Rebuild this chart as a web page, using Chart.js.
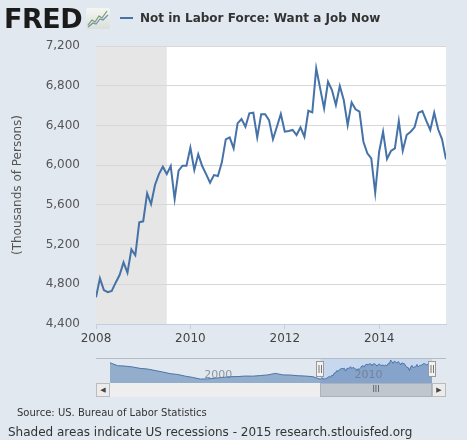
<!DOCTYPE html>
<html>
<head>
<meta charset="utf-8">
<script src="https://cdn.jsdelivr.net/npm/chart.js@4.4.1/dist/chart.umd.min.js"></script>
<style>
  html, body { margin: 0; padding: 0; }
  body { width: 467px; height: 440px; overflow: hidden; background: #e1e8f0; position: relative; font-family: "DejaVu Sans", Verdana, sans-serif; }
  .abs { position: absolute; }
  .top { z-index: 2; }
  #logo { left: 4px; top: 4px; font: bold 27px "DejaVu Sans", Verdana, sans-serif; color: #1b1b1b; line-height: 30px; letter-spacing: -0.5px; }
  #legend-line { left: 120px; top: 17px; width: 13px; height: 2px; background: #4572a7; }
  #legend-text { left: 140px; top: 10px; font: bold 12px "DejaVu Sans", Verdana, sans-serif; color: #333; white-space: nowrap; line-height: 16px; }
  #source { left: 17px; top: 406px; font-size: 10px; color: #333; white-space: nowrap; line-height: 14px; }
  #note { left: 8px; top: 424px; font-size: 12px; color: #333; white-space: nowrap; line-height: 16px; }
  .sb { position: absolute; top: 383px; height: 14px; box-sizing: border-box; }
</style>
</head>
<body>
<canvas id="main" class="abs" style="left:0;top:0" width="467" height="350"></canvas>

<div id="logo" class="abs top">FRED</div>
<svg class="abs top" style="left:86px;top:8px" width="24" height="21" viewBox="0 0 24 21">
  <defs><linearGradient id="ig" x1="0" y1="0" x2="0" y2="1"><stop offset="0" stop-color="#f4f6f4"/><stop offset="1" stop-color="#d9dfd9"/></linearGradient></defs>
  <rect x="0" y="0" width="24" height="21" rx="2" fill="url(#ig)"/>
  <polyline points="2,17 6,12 9,14 13,8 16,10 21,3" fill="none" stroke="#7a9a6a" stroke-width="1.2"/>
  <polyline points="2,19 7,15 10,16 14,11 17,12 22,7" fill="none" stroke="#6f8fb0" stroke-width="1.2"/>
</svg>
<div id="legend-line" class="abs top"></div>
<div id="legend-text" class="abs top">Not in Labor Force: Want a Job Now</div>

<div class="abs" style="left:96px;top:358px;width:350px;height:1px;background:#b4bcc6"></div>
<canvas id="nav" class="abs" style="left:96px;top:356px" width="350" height="30"></canvas>

<div class="sb" style="left:96px;width:14px;background:#ececec;border:1px solid #bbb;font-size:7px;color:#444;text-align:center;line-height:12px">&#9664;</div>
<div class="sb" style="left:110px;width:210px;background:#eeeeee"></div>
<div class="sb" style="left:320px;width:112px;background:#bfc6ce;border:1px solid #aab2bb;font-size:8px;color:#555;text-align:center;line-height:12px">III</div>
<div class="sb" style="left:432px;width:14px;background:#ececec;border:1px solid #bbb;font-size:7px;color:#444;text-align:center;line-height:12px">&#9654;</div>

<div id="source" class="abs">Source: US. Bureau of Labor Statistics</div>
<div id="note" class="abs">Shaded areas indicate US recessions - 2015 research.stlouisfed.org</div>

<script>
// monthly observations, Jan 2008 .. Jun 2015 (thousands of persons)
const startMonth = '2008-01';
const wantJob = [
  4670, 4860, 4742, 4720, 4732, 4816, 4893, 5021, 4917, 5152, 5092, 5424,
  5434, 5716, 5608, 5800, 5910, 5984, 5910, 5991, 5659, 5944, 5994, 5994,
  6175, 5951, 6109, 5991, 5910, 5823, 5900, 5890, 6028, 6260, 6280, 6169,
  6421, 6464, 6387, 6522, 6528, 6280, 6512, 6512, 6454, 6260, 6387, 6515,
  6337, 6344, 6354, 6303, 6381, 6286, 6548, 6532, 6975, 6773, 6572, 6840,
  6756, 6605, 6797, 6656, 6404, 6632, 6562, 6538, 6236, 6119, 6069, 5722,
  6135, 6337, 6062, 6142, 6169, 6444, 6145, 6303, 6337, 6381, 6528, 6545,
  6447, 6354, 6528, 6361, 6260, 6058
];
// navigator: earlier history, half-yearly readings 1994 .. mid 2007
const historyStart = 1994;
const historyHalfYear = [
  6650, 6300, 6250, 6150, 5980, 5900, 5720, 5550, 5350, 5250,
  5050, 4900, 4700, 4720, 4800, 4900, 4980, 5000, 5060, 5050,
  5120, 5200, 5380, 5200, 5180, 5100, 5060, 4980
];

const xTickYears = [2008, 2010, 2012, 2014];
const yTicks = [4400, 4800, 5200, 5600, 6000, 6400, 6800, 7200];
const navTickYears = [2000, 2010];
// Dec 2007 through end of Jun 2009
const recession = { start: 2007 + 11 / 12, end: 2009 + 6 / 12 };

const FONT = '"DejaVu Sans", Verdana, sans-serif';
const startYear = +startMonth.slice(0, 4) + (+startMonth.slice(5) - 1) / 12;
const mainPoints = wantJob.map((v, i) => ({ x: startYear + i / 12, y: v }));
const lastX = mainPoints[mainPoints.length - 1].x;
const navPoints = historyHalfYear.map((v, i) => ({ x: historyStart + i / 2, y: v })).concat(mainPoints);

const backdrop = {
  id: 'backdrop',
  beforeDraw(chart) {
    const { ctx, chartArea: a, scales: { x } } = chart;
    ctx.save();
    ctx.fillStyle = '#e1e8f0';
    ctx.fillRect(0, 0, chart.width, chart.height);
    ctx.fillStyle = '#ffffff';
    ctx.fillRect(a.left, a.top, a.right - a.left, a.bottom - a.top);
    const x0 = Math.max(a.left, x.getPixelForValue(recession.start));
    const x1 = Math.min(a.right, x.getPixelForValue(recession.end));
    ctx.fillStyle = '#e6e6e6';
    ctx.fillRect(x0, a.top, x1 - x0, a.bottom - a.top);
    ctx.restore();
  }
};

new Chart(document.getElementById('main'), {
  type: 'line',
  data: {
    datasets: [{
      label: 'Not in Labor Force: Want a Job Now',
      data: mainPoints,
      borderColor: '#4572a7',
      borderWidth: 2,
      pointRadius: 0,
      tension: 0,
      fill: false
    }]
  },
  options: {
    responsive: false,
    animation: false,
    layout: { padding: { top: 46, right: 21, left: 0, bottom: 0 } },
    plugins: { legend: { display: false }, tooltip: { enabled: false } },
    scales: {
      x: {
        type: 'linear',
        min: startYear,
        max: lastX,
        afterBuildTicks: s => { s.ticks = xTickYears.map(v => ({ value: v })); },
        afterFit: s => { s.height = 26; },
        grid: { drawOnChartArea: false, drawTicks: true, tickLength: 5, color: '#c0d0e0' },
        border: { color: '#c0d0e0' },
        ticks: { padding: 3, autoSkip: false, maxRotation: 0, color: '#444', font: { family: FONT, size: 12 }, callback: v => String(v) }
      },
      y: {
        min: yTicks[0],
        max: yTicks[yTicks.length - 1],
        afterBuildTicks: s => { s.ticks = yTicks.map(v => ({ value: v })); },
        afterFit: s => { s.width = 96; },
        grid: { color: '#d8d8d8', drawTicks: false },
        border: { display: false },
        ticks: { padding: 16, color: '#555', font: { family: FONT, size: 12 }, callback: v => v.toLocaleString('en-US') },
        title: { display: true, text: '(Thousands of Persons)', color: '#555', font: { family: FONT, size: 12 }, padding: { top: 11, bottom: 0 } }
      }
    }
  },
  plugins: [backdrop]
});

const navDecor = {
  id: 'navDecor',
  beforeDatasetsDraw(chart) {
    const { ctx, chartArea: a, scales: { x } } = chart;
    ctx.save();
    ctx.fillStyle = '#c6d7ee';
    const x0 = x.getPixelForValue(startYear), x1 = x.getPixelForValue(lastX);
    ctx.fillRect(x0, a.top, x1 - x0, a.bottom - a.top);
    ctx.restore();
  },
  afterDatasetsDraw(chart) {
    const { ctx, chartArea: a, scales: { x } } = chart;
    ctx.save();
    ctx.font = '11px ' + FONT;
    ctx.fillStyle = 'rgba(110,120,135,0.75)';
    ctx.textBaseline = 'middle';
    navTickYears.forEach(yr => ctx.fillText(String(yr), x.getPixelForValue(yr) + 4, a.top + 16));
    [startYear, lastX].forEach(v => {
      const px = Math.round(x.getPixelForValue(v));
      ctx.fillStyle = '#f2f2f2';
      ctx.strokeStyle = '#999';
      ctx.lineWidth = 1;
      ctx.fillRect(px - 3.5, a.top + 2.5, 7, 15);
      ctx.strokeRect(px - 3.5, a.top + 2.5, 7, 15);
      ctx.beginPath();
      ctx.moveTo(px - 1, a.top + 6); ctx.lineTo(px - 1, a.top + 14);
      ctx.moveTo(px + 1.5, a.top + 6); ctx.lineTo(px + 1.5, a.top + 14);
      ctx.strokeStyle = '#777';
      ctx.stroke();
    });
    ctx.restore();
  }
};

new Chart(document.getElementById('nav'), {
  type: 'line',
  data: {
    datasets: [{
      data: navPoints,
      borderColor: '#4a73a8',
      borderWidth: 1,
      backgroundColor: 'rgba(69,114,167,0.5)',
      fill: 'start',
      pointRadius: 0,
      tension: 0
    }]
  },
  options: {
    responsive: false,
    animation: false,
    layout: { padding: { left: 14, right: 14, top: 3, bottom: 3 } },
    plugins: { legend: { display: false }, tooltip: { enabled: false } },
    scales: {
      x: { type: 'linear', display: false, min: historyStart, max: lastX },
      y: { display: false, min: 4230, max: 7100 }
    }
  },
  plugins: [navDecor]
});
</script>
</body>
</html>
